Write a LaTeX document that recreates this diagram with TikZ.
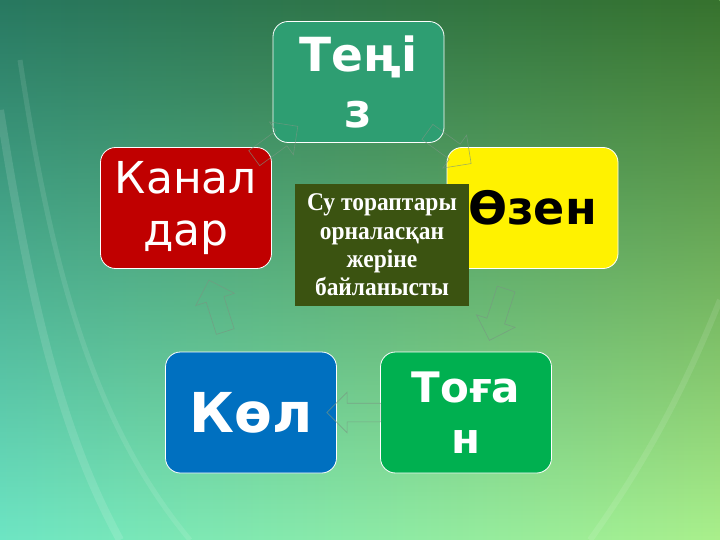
\documentclass[tikz,border=0pt]{standalone}
\usepackage{fontspec}
\newfontfamily\boxfont{DejaVu Sans}
\newfontfamily\notefont[FakeStretch=0.92]{Liberation Serif}
\usetikzlibrary{shapes.arrows,fadings}
\definecolor{topleft}{RGB}{40,120,96}
\definecolor{topmid}{RGB}{92,162,108}
\definecolor{topright}{RGB}{54,114,46}
\definecolor{botleft}{RGB}{110,230,196}
\definecolor{botmid}{RGB}{170,250,190}
\definecolor{botright}{RGB}{170,240,140}
\definecolor{tenizcol}{RGB}{46,158,114}
\definecolor{kanalcol}{RGB}{192,0,0}
\definecolor{kolcol}{RGB}{0,112,192}
\definecolor{togancol}{RGB}{0,176,80}
\definecolor{notecol}{RGB}{59,83,17}
\definecolor{arrowcol}{RGB}{120,150,130}
\tikzfading[name=topfade,top color=transparent!0,middle color=transparent!88,bottom color=transparent!100]

\begin{document}
\begin{tikzpicture}[x=1pt,y=-1pt,
  card/.style={draw=white,line width=0.8pt,rounded corners=15pt,minimum width=171pt,minimum height=121pt,align=center,text=white,inner sep=0pt},
  cyclearrow/.style={single arrow,draw=arrowcol,draw opacity=0.7,line width=0.6pt,minimum height=54pt,inner xsep=0pt,inner ysep=9pt,single arrow head extend=11pt,sloped,allow upside down}]
\useasboundingbox (0,0) rectangle (720,540);
% background
\shade[left color=botleft,middle color=botmid,right color=botright] (0,0) rectangle (720,540);
\shade[left color=topleft,middle color=topmid,right color=topright,path fading=topfade] (0,0) rectangle (720,540);
\draw[white,opacity=0.12,line width=8pt] (0,110) .. controls (30,300) and (60,430) .. (120,540);
\draw[white,opacity=0.10,line width=5pt] (20,60) .. controls (50,260) and (90,420) .. (190,540);
\draw[white,opacity=0.10,line width=6pt] (720,300) .. controls (680,400) and (640,470) .. (590,540);
% boxes
\node[card,fill=tenizcol,font=\boxfont\bfseries\fontsize{47}{56}\selectfont] (teniz) at (358.5,82) {Теңі\\з};
\node[card,fill=yellow,text=black,font=\boxfont\bfseries\fontsize{46}{55}\selectfont] (ozen) at (532.5,208) {Өзен};
\node[card,fill=kanalcol,font=\boxfont\fontsize{44}{52}\selectfont] (kanal) at (186,208) {Канал\\дар};
\node[card,fill=kolcol,font=\boxfont\bfseries\fontsize{55}{66}\selectfont] (kol) at (251,412.5) {Көл};
\node[card,fill=togancol,font=\boxfont\bfseries\fontsize{42}{51}\selectfont] (togan) at (466,412.5) {Тоға\\н};
% arrows
\path (teniz.center) -- node[cyclearrow] {} (ozen.center);
\path (ozen.center) -- node[cyclearrow] {} (togan.center);
\path (togan.center) -- node[cyclearrow] {} (kol.center);
\path (kol.center) -- node[cyclearrow] {} (kanal.center);
\path (kanal.center) -- node[cyclearrow] {} (teniz.center);
% middle note
\node[fill=notecol,minimum width=174pt,minimum height=122pt,align=center,text=white,inner sep=0pt,
  font=\notefont\bfseries\fontsize{25.5}{28.3}\selectfont] (note) at (382,245) {Су тораптары\\орналасқан\\жеріне\\байланысты};
\end{tikzpicture}
\end{document}
